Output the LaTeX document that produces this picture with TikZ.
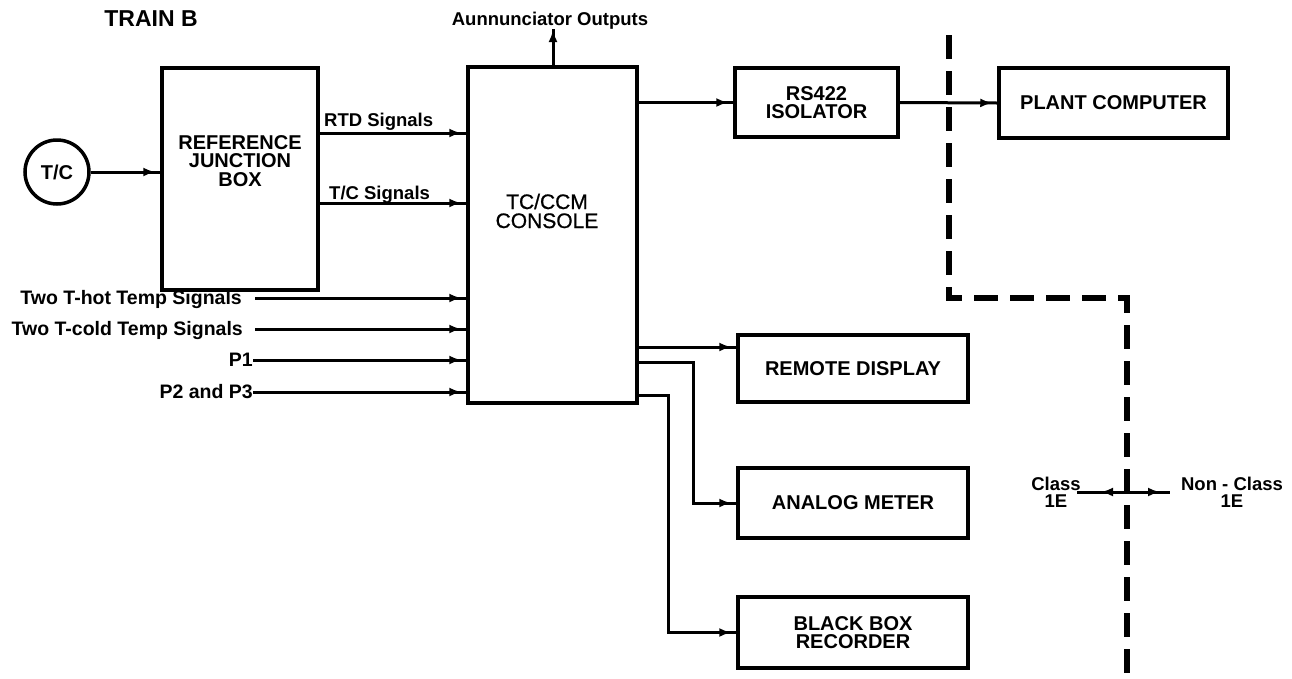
\documentclass[tikz,border=0pt]{standalone}
\usepackage{fontspec}
\setmainfont{Liberation Sans}
\newfontfamily\consolefont[FakeBold=0.8]{Liberation Sans}
\usetikzlibrary{arrows.meta,decorations.markings}
\begin{document}
\begin{tikzpicture}[x=1pt,y=-1pt,
  box/.style={draw, line width=3.5pt, inner sep=0pt, align=center,
              font=\fontsize{20}{18}\selectfont\bfseries},
  btxt/.style={inner sep=0pt, align=center, font=\fontsize{20}{18.5}\selectfont\bfseries},
  lbl/.style={inner sep=0pt, font=\fontsize{18.5}{17}\selectfont\bfseries},
  inlbl/.style={inner sep=0pt, font=\fontsize{19.5}{17}\selectfont\bfseries},
  wire/.style={line width=3pt},
  sig/.style={wire, postaction={decorate},
     decoration={markings, mark=at position -5pt with {\arrow{Latex[length=12pt,width=9pt]}}}},
  tipat/.style={wire, postaction={decorate},
     decoration={markings, mark=at position #1 with {\arrow{Latex[length=12pt,width=9pt]}}}},
  divider/.style={line width=6pt, dash pattern=on 24pt off 12pt}
]
\useasboundingbox[fill=white] (0,0) rectangle (1292,678);

% title
\node[inner sep=0pt, font=\fontsize{23}{23}\selectfont\bfseries, anchor=base] (train) at (151,26) {TRAIN B};

% boxes
\node[box, circle, minimum size=64pt] (tc) at (57,172) {T/C};
\node[box, minimum width=156pt, minimum height=222pt] (rjb) at (240,179) {};
\node[btxt] (rjbt) at (240,161) {REFERENCE\\JUNCTION\\BOX};
\node[box, minimum width=169pt, minimum height=336pt] (con) at (552.5,235) {};
\node[inner sep=0pt, align=center, font=\fontsize{21}{19}\consolefont] (cont) at (547,211) {TC/CCM\\CONSOLE};
\node[box, minimum width=163pt, minimum height=69pt] (rs) at (816.5,102.5) {RS422\\ISOLATOR};
\node[box, minimum width=229pt, minimum height=70pt] (pc) at (1113.5,103) {PLANT COMPUTER};
\node[box, minimum width=230pt, minimum height=67pt] (rd) at (853,368.5) {REMOTE DISPLAY};
\node[box, minimum width=230pt, minimum height=70pt] (am) at (853,503) {ANALOG METER};
\node[box, minimum width=230pt, minimum height=71pt] (bb) at (853,632.5) {BLACK BOX\\RECORDER};

% left side connectors
\draw[sig] (tc.east) -- (rjb.west |- tc.east);
\draw[sig] (rjb.east |- 0,133) -- (con.west |- 0,133);
\node[lbl, anchor=base west] (rtdl) at (324,126) {RTD Signals};
\draw[sig] (rjb.east |- 0,203) -- (con.west |- 0,203);
\node[lbl, anchor=base west] (tcl) at (329,199) {T/C Signals};

% input signals
\coordinate (hotS) at (255,298);
\coordinate (coldS) at (255,329);
\coordinate (p1S) at (253,360);
\coordinate (p2S) at (253,392);
\node[inlbl, anchor=base east] (hotl) at (242,304) {Two T-hot Temp Signals};
\node[inlbl, anchor=base east] (coldl) at (243,335) {Two T-cold Temp Signals};
\node[inlbl, anchor=base east] (p1l) at (253,366) {P1};
\node[inlbl, anchor=base east] (p2l) at (253,398) {P2 and P3};
\draw[sig] (hotS) -- (con.west |- hotS);
\draw[sig] (coldS) -- (con.west |- coldS);
\draw[sig] (p1S) -- (con.west |- p1S);
\draw[sig] (p2S) -- (con.west |- p2S);

% annunciator
\coordinate (ann) at (553,29);
\draw[tipat=-1pt] (con.north -| ann) -- (ann);
\node[lbl, anchor=base] (annl) at (550,25) {Aunnunciator Outputs};

% outputs
\draw[sig] (con.east |- rs.west) -- (rs.west);
\draw[sig] (rs.east) -- (pc.west);
\draw[sig] (con.east |- 0,347) -- (rd.west |- 0,347);
\draw[sig] (con.east |- 0,362) -- (693,362) |- (am.west);
\draw[sig] (con.east |- 0,395) -- (668,395) |- (bb.west);

% class boundary
\draw[divider] (949,35) -- (949,298) -- (1127,298) -- (1127,682);
\coordinate (cross) at (1127,492);
\coordinate (clE) at (1077,492);
\coordinate (nclE) at (1170,492);
\draw[tipat=-24pt] (cross) -- (clE);
\draw[tipat=-10pt] (cross) -- (nclE);
\node[lbl, align=center] (cls) at (1056,492) {Class\\1E};
\node[lbl, align=center] (ncls) at (1232,492) {Non - Class\\1E};
\end{tikzpicture}
\end{document}
